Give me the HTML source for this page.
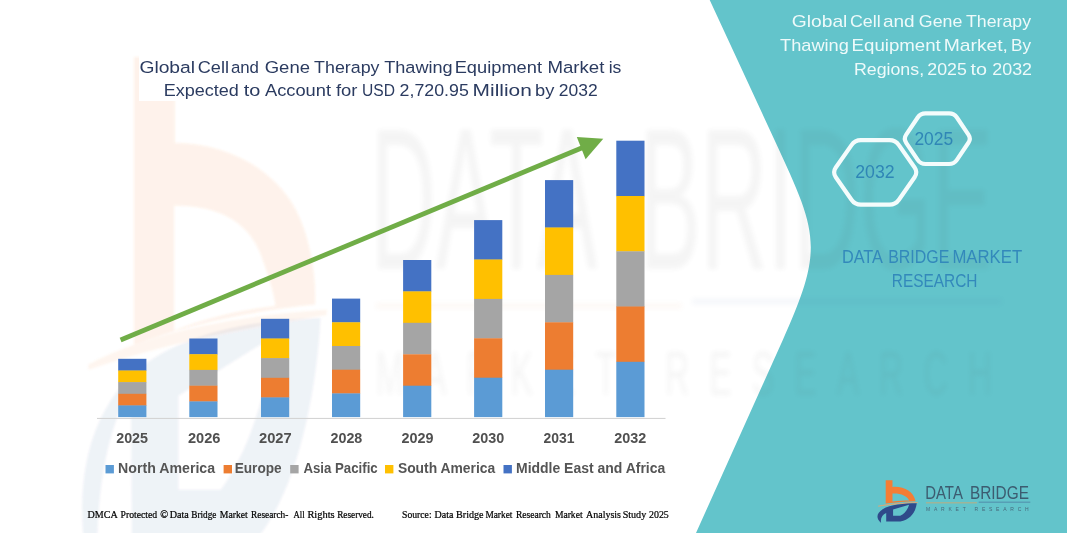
<!DOCTYPE html>
<html lang="en">
<head>
<meta charset="utf-8">
<title>Global Cell and Gene Therapy Thawing Equipment Market</title>
<style>
html,body{margin:0;padding:0;background:#ffffff;}
body{width:1067px;height:533px;overflow:hidden;position:relative;font-family:"Liberation Sans",sans-serif;}
svg{position:absolute;left:0;top:0;display:block;will-change:transform;}
text{font-family:"Liberation Sans",sans-serif;}
.title{font-size:16.9px;fill:#2b3b60;}
.rtitle{font-size:15.9px;fill:#eefafa;}
.yr{font-size:13.8px;font-weight:bold;fill:#505050;}
.lg{font-size:13.8px;font-weight:bold;fill:#555555;}
.ft{font-family:"Liberation Serif",serif;font-size:10.3px;fill:#000000;stroke:#000000;stroke-width:0.22px;}
.hx{font-size:17.8px;fill:#2f86b6;}
.dbm{font-size:17.8px;fill:#3389bb;}
</style>
</head>
<body>
<svg width="1067" height="533" viewBox="0 0 1067 533">
  <defs>
    <filter id="blur1" x="-10%" y="-10%" width="120%" height="120%"><feGaussianBlur stdDeviation="1.2"/></filter>
    <filter id="blur2" x="-10%" y="-10%" width="120%" height="120%"><feGaussianBlur stdDeviation="2.5"/></filter>
  </defs>
  <g opacity="0.999">
  <rect x="0" y="0" width="1067" height="533" fill="#ffffff"/>

  <!-- faint watermark (left logo) -->
  <g filter="url(#blur1)"><g transform="matrix(6 0 0 12.87 -5180.2 -6124.2)"><g transform="translate(870,474) scale(0.10127)">
  <g opacity="0.10">
    <path d="M155,62 L222,62 L222,128 C300,128 380,145 420,178 C445,200 455,230 453,252 C360,256 250,266 155,283 Z M221,176 C300,176 345,190 365,215 C378,232 385,242 388,253 C330,256 270,263 221,272 Z" fill="#f47d35" fill-rule="evenodd"/>
    <path d="M80,300 C180,275 330,262 472,258 C330,268 190,282 80,300 Z" fill="#f0a060" stroke="#f0a060" stroke-width="4"/>
  </g>
  <g opacity="0.065">
    <path transform="translate(0,-28)" d="M462,290 C340,292 200,302 125,348 C68,385 48,440 100,530 C88,470 95,420 115,385 C125,368 138,352 150,345 L152,480 L300,480 C400,462 452,372 462,290 Z M228,350 L386,304 C372,352 340,396 298,422 L228,422 Z" fill="#2f4a8a" fill-rule="evenodd"/>
  </g>
  </g></g></g>

  <!-- teal panel -->
  <path d="M709.7,0 L774.5,140 C817.6,233 824.7,247 782.8,340 L696,533 L1067,533 L1067,0 Z" fill="#63c4cb"/>

  <!-- faint watermark (text) -->
  <g opacity="0.05" filter="url(#blur2)"><g transform="matrix(6 0 0 11.1 -5180.2 -5272.4)">
  <text x="925.2" y="499.2" font-size="18.2" fill="#444444" textLength="37.7" lengthAdjust="spacingAndGlyphs">DATA</text>
  <text x="969.9" y="499.2" font-size="18.2" fill="#444444" textLength="59" lengthAdjust="spacingAndGlyphs">BRIDGE</text>
  <rect x="926" y="502.3" width="51" height="0.5" fill="#e08a4a"/>
  <rect x="978.7" y="501.9" width="51.6" height="0.5" fill="#3a5fa0"/>
  <text x="926" y="510.6" font-size="5.6" fill="#444444" textLength="102.7" lengthAdjust="spacing">MARKET  RESEARCH</text>
  </g></g>

  <!-- axis baseline -->
  <rect x="97" y="417.9" width="568.5" height="1.1" fill="#d4d4d4"/>

  <!-- stacked bars -->
  <g>
    <rect x="118.2" y="358.8" width="28.2" height="12.0" fill="#4472c4"/>
    <rect x="118.2" y="370.5" width="28.2" height="12.0" fill="#ffc000"/>
    <rect x="118.2" y="382.1" width="28.2" height="12.0" fill="#a5a5a5"/>
    <rect x="118.2" y="393.8" width="28.2" height="12.0" fill="#ed7d31"/>
    <rect x="118.2" y="405.4" width="28.2" height="11.7" fill="#5b9bd5"/>
  </g>
  <g>
    <rect x="189.3" y="338.5" width="28.2" height="16.0" fill="#4472c4"/>
    <rect x="189.3" y="354.2" width="28.2" height="16.0" fill="#ffc000"/>
    <rect x="189.3" y="369.9" width="28.2" height="16.0" fill="#a5a5a5"/>
    <rect x="189.3" y="385.7" width="28.2" height="16.0" fill="#ed7d31"/>
    <rect x="189.3" y="401.4" width="28.2" height="15.7" fill="#5b9bd5"/>
  </g>
  <g>
    <rect x="261.0" y="318.8" width="28.2" height="20.0" fill="#4472c4"/>
    <rect x="261.0" y="338.5" width="28.2" height="20.0" fill="#ffc000"/>
    <rect x="261.0" y="358.1" width="28.2" height="20.0" fill="#a5a5a5"/>
    <rect x="261.0" y="377.8" width="28.2" height="20.0" fill="#ed7d31"/>
    <rect x="261.0" y="397.4" width="28.2" height="19.7" fill="#5b9bd5"/>
  </g>
  <g>
    <rect x="332.0" y="298.6" width="28.2" height="24.0" fill="#4472c4"/>
    <rect x="332.0" y="322.3" width="28.2" height="24.0" fill="#ffc000"/>
    <rect x="332.0" y="346.0" width="28.2" height="24.0" fill="#a5a5a5"/>
    <rect x="332.0" y="369.7" width="28.2" height="24.0" fill="#ed7d31"/>
    <rect x="332.0" y="393.4" width="28.2" height="23.7" fill="#5b9bd5"/>
  </g>
  <g>
    <rect x="403.1" y="260.0" width="28.2" height="31.7" fill="#4472c4"/>
    <rect x="403.1" y="291.4" width="28.2" height="31.7" fill="#ffc000"/>
    <rect x="403.1" y="322.8" width="28.2" height="31.7" fill="#a5a5a5"/>
    <rect x="403.1" y="354.3" width="28.2" height="31.7" fill="#ed7d31"/>
    <rect x="403.1" y="385.7" width="28.2" height="31.4" fill="#5b9bd5"/>
  </g>
  <g>
    <rect x="474.1" y="220.1" width="28.2" height="39.7" fill="#4472c4"/>
    <rect x="474.1" y="259.5" width="28.2" height="39.7" fill="#ffc000"/>
    <rect x="474.1" y="298.9" width="28.2" height="39.7" fill="#a5a5a5"/>
    <rect x="474.1" y="338.3" width="28.2" height="39.7" fill="#ed7d31"/>
    <rect x="474.1" y="377.7" width="28.2" height="39.4" fill="#5b9bd5"/>
  </g>
  <g>
    <rect x="545.0" y="180.1" width="28.2" height="47.7" fill="#4472c4"/>
    <rect x="545.0" y="227.5" width="28.2" height="47.7" fill="#ffc000"/>
    <rect x="545.0" y="274.9" width="28.2" height="47.7" fill="#a5a5a5"/>
    <rect x="545.0" y="322.3" width="28.2" height="47.7" fill="#ed7d31"/>
    <rect x="545.0" y="369.7" width="28.2" height="47.4" fill="#5b9bd5"/>
  </g>
  <g>
    <rect x="616.3" y="140.7" width="28.2" height="55.6" fill="#4472c4"/>
    <rect x="616.3" y="196.0" width="28.2" height="55.6" fill="#ffc000"/>
    <rect x="616.3" y="251.3" width="28.2" height="55.6" fill="#a5a5a5"/>
    <rect x="616.3" y="306.5" width="28.2" height="55.6" fill="#ed7d31"/>
    <rect x="616.3" y="361.8" width="28.2" height="55.3" fill="#5b9bd5"/>
  </g>

  <!-- trend arrow -->
  <line x1="120.6" y1="340" x2="584" y2="147" stroke="#70ad47" stroke-width="4.8"/>
  <polygon points="603.3,138.7 576.8,137 585.6,159.3" fill="#70ad47"/>

  <!-- chart title -->
  <rect x="139" y="54" width="485" height="47" fill="#ffffff"/>
  <text class="title" x="139.4" y="72.5" textLength="55.7" lengthAdjust="spacingAndGlyphs">Global</text>
  <text class="title" x="197.8" y="72.5" textLength="31.2" lengthAdjust="spacingAndGlyphs">Cell</text>
  <text class="title" x="230.9" y="72.5" textLength="28.1" lengthAdjust="spacingAndGlyphs">and</text>
  <text class="title" x="264.7" y="72.5" textLength="45.3" lengthAdjust="spacingAndGlyphs">Gene</text>
  <text class="title" x="314.1" y="72.5" textLength="65.4" lengthAdjust="spacingAndGlyphs">Therapy</text>
  <text class="title" x="384.2" y="72.5" textLength="68.5" lengthAdjust="spacingAndGlyphs">Thawing</text>
  <text class="title" x="454.7" y="72.5" textLength="87.3" lengthAdjust="spacingAndGlyphs">Equipment</text>
  <text class="title" x="547.4" y="72.5" textLength="57.0" lengthAdjust="spacingAndGlyphs">Market</text>
  <text class="title" x="608.7" y="72.5" textLength="12.7" lengthAdjust="spacingAndGlyphs">is</text>
  <text class="title" x="163.7" y="96.4" textLength="75.2" lengthAdjust="spacingAndGlyphs">Expected</text>
  <text class="title" x="243.7" y="96.4" textLength="16.6" lengthAdjust="spacingAndGlyphs">to</text>
  <text class="title" x="265.0" y="96.4" textLength="66.0" lengthAdjust="spacingAndGlyphs">Account</text>
  <text class="title" x="335.9" y="96.4" textLength="21.5" lengthAdjust="spacingAndGlyphs">for</text>
  <text class="title" x="362.0" y="96.4" textLength="33.0" lengthAdjust="spacingAndGlyphs">USD</text>
  <text class="title" x="399.6" y="96.4" textLength="69.2" lengthAdjust="spacingAndGlyphs">2,720.95</text>
  <text class="title" x="472.6" y="96.4" textLength="59.2" lengthAdjust="spacingAndGlyphs">Million</text>
  <text class="title" x="535.0" y="96.4" textLength="19.3" lengthAdjust="spacingAndGlyphs">by</text>
  <text class="title" x="558.8" y="96.4" textLength="38.9" lengthAdjust="spacingAndGlyphs">2032</text>

  <!-- axis labels -->
  <text class="yr" x="116.2" y="443.1" textLength="31.8" lengthAdjust="spacingAndGlyphs">2025</text>
  <text class="yr" x="187.9" y="443.1" textLength="32.5" lengthAdjust="spacingAndGlyphs">2026</text>
  <text class="yr" x="259.0" y="443.1" textLength="32.7" lengthAdjust="spacingAndGlyphs">2027</text>
  <text class="yr" x="330.5" y="443.1" textLength="31.8" lengthAdjust="spacingAndGlyphs">2028</text>
  <text class="yr" x="401.4" y="443.1" textLength="32.0" lengthAdjust="spacingAndGlyphs">2029</text>
  <text class="yr" x="472.3" y="443.1" textLength="32.0" lengthAdjust="spacingAndGlyphs">2030</text>
  <text class="yr" x="543.4" y="443.1" textLength="31.0" lengthAdjust="spacingAndGlyphs">2031</text>
  <text class="yr" x="614.3" y="443.1" textLength="32.0" lengthAdjust="spacingAndGlyphs">2032</text>

  <!-- legend -->
  <rect x="105.5" y="465" width="8.4" height="8.4" fill="#5b9bd5"/>
  <text class="lg" x="118.1" y="473.4" textLength="97.0" lengthAdjust="spacingAndGlyphs">North America</text>
  <rect x="223.6" y="465" width="8.4" height="8.4" fill="#ed7d31"/>
  <text class="lg" x="234.7" y="473.4" textLength="47.0" lengthAdjust="spacingAndGlyphs">Europe</text>
  <rect x="290.2" y="465" width="8.4" height="8.4" fill="#a5a5a5"/>
  <text class="lg" x="303.4" y="473.4" textLength="74.3" lengthAdjust="spacingAndGlyphs">Asia Pacific</text>
  <rect x="385.0" y="465" width="8.4" height="8.4" fill="#ffc000"/>
  <text class="lg" x="397.9" y="473.4" textLength="97.3" lengthAdjust="spacingAndGlyphs">South America</text>
  <rect x="503.5" y="465" width="8.4" height="8.4" fill="#4472c4"/>
  <text class="lg" x="516.0" y="473.4" textLength="149.3" lengthAdjust="spacingAndGlyphs">Middle East and Africa</text>

  <!-- footer -->
  <text class="ft" x="87.6" y="517.9" textLength="30.2" lengthAdjust="spacingAndGlyphs">DMCA</text>
  <text class="ft" x="120.5" y="517.9" textLength="36.7" lengthAdjust="spacingAndGlyphs">Protected</text>
  <text class="ft" x="160.2" y="517.9" textLength="7.9" lengthAdjust="spacingAndGlyphs">©</text>
  <text class="ft" x="169.7" y="517.9" textLength="19.1" lengthAdjust="spacingAndGlyphs">Data</text>
  <text class="ft" x="191.2" y="517.9" textLength="25.3" lengthAdjust="spacingAndGlyphs">Bridge</text>
  <text class="ft" x="219.8" y="517.9" textLength="28.0" lengthAdjust="spacingAndGlyphs">Market</text>
  <text class="ft" x="251.1" y="517.9" textLength="37.3" lengthAdjust="spacingAndGlyphs">Research-</text>
  <text class="ft" x="293.6" y="517.9" textLength="11.1" lengthAdjust="spacingAndGlyphs">All</text>
  <text class="ft" x="307.4" y="517.9" textLength="27.3" lengthAdjust="spacingAndGlyphs">Rights</text>
  <text class="ft" x="337.2" y="517.9" textLength="36.7" lengthAdjust="spacingAndGlyphs">Reserved.</text>
  <text class="ft" x="402.1" y="517.9" textLength="29.5" lengthAdjust="spacingAndGlyphs">Source:</text>
  <text class="ft" x="434.5" y="517.9" textLength="18.9" lengthAdjust="spacingAndGlyphs">Data</text>
  <text class="ft" x="456.1" y="517.9" textLength="27.5" lengthAdjust="spacingAndGlyphs">Bridge</text>
  <text class="ft" x="485.4" y="517.9" textLength="27.0" lengthAdjust="spacingAndGlyphs">Market</text>
  <text class="ft" x="515.9" y="517.9" textLength="34.9" lengthAdjust="spacingAndGlyphs">Research</text>
  <text class="ft" x="554.9" y="517.9" textLength="27.7" lengthAdjust="spacingAndGlyphs">Market</text>
  <text class="ft" x="586.1" y="517.9" textLength="34.9" lengthAdjust="spacingAndGlyphs">Analysis</text>
  <text class="ft" x="622.7" y="517.9" textLength="23.5" lengthAdjust="spacingAndGlyphs">Study</text>
  <text class="ft" x="649.0" y="517.9" textLength="19.8" lengthAdjust="spacingAndGlyphs">2025</text>

  <!-- right panel -->
  <text class="rtitle" x="791.8" y="27.4" textLength="55.6" lengthAdjust="spacingAndGlyphs">Global</text>
  <text class="rtitle" x="849.9" y="27.4" textLength="30.7" lengthAdjust="spacingAndGlyphs">Cell</text>
  <text class="rtitle" x="882.9" y="27.4" textLength="31.7" lengthAdjust="spacingAndGlyphs">and</text>
  <text class="rtitle" x="918.8" y="27.4" textLength="43.5" lengthAdjust="spacingAndGlyphs">Gene</text>
  <text class="rtitle" x="966.0" y="27.4" textLength="65.1" lengthAdjust="spacingAndGlyphs">Therapy</text>
  <text class="rtitle" x="780.0" y="51.4" textLength="68.9" lengthAdjust="spacingAndGlyphs">Thawing</text>
  <text class="rtitle" x="851.6" y="51.4" textLength="89.2" lengthAdjust="spacingAndGlyphs">Equipment</text>
  <text class="rtitle" x="943.7" y="51.4" textLength="64.3" lengthAdjust="spacingAndGlyphs">Market,</text>
  <text class="rtitle" x="1011.1" y="51.4" textLength="20.0" lengthAdjust="spacingAndGlyphs">By</text>
  <text class="rtitle" x="853.9" y="75.4" textLength="70.2" lengthAdjust="spacingAndGlyphs">Regions,</text>
  <text class="rtitle" x="927.3" y="75.4" textLength="39.5" lengthAdjust="spacingAndGlyphs">2025</text>
  <text class="rtitle" x="970.5" y="75.4" textLength="16.5" lengthAdjust="spacingAndGlyphs">to</text>
  <text class="rtitle" x="992.3" y="75.4" textLength="39.7" lengthAdjust="spacingAndGlyphs">2032</text>
  <path d="M835.8,177.3 Q832.4,172.4 835.8,167.5 L851.5,145.1 Q854.9,140.2 860.9,140.2 L889.5,140.2 Q895.5,140.2 898.9,145.1 L914.6,167.5 Q918.0,172.4 914.6,177.3 L898.9,199.7 Q895.5,204.6 889.5,204.6 L860.9,204.6 Q854.9,204.6 851.5,199.7 Z" fill="none" stroke="#f4fcfc" stroke-width="4.2" stroke-linejoin="round"/>
  <path d="M906.2,142.8 Q903.4,138.7 906.2,134.6 L917.7,117.5 Q920.5,113.4 925.5,113.4 L949.1,113.4 Q954.1,113.4 956.9,117.5 L968.4,134.6 Q971.2,138.7 968.4,142.8 L956.9,159.9 Q954.1,164.0 949.1,164.0 L925.5,164.0 Q920.5,164.0 917.7,159.9 Z" fill="none" stroke="#f4fcfc" stroke-width="4.2" stroke-linejoin="round"/>
  <text class="hx" x="914.4" y="145.4" textLength="38.8" lengthAdjust="spacingAndGlyphs">2025</text>
  <text class="hx" x="855.2" y="178.0" textLength="39.4" lengthAdjust="spacingAndGlyphs">2032</text>
  <text class="dbm" x="841.9" y="262.9" textLength="41.0" lengthAdjust="spacingAndGlyphs">DATA</text>
  <text class="dbm" x="888.2" y="262.9" textLength="61.2" lengthAdjust="spacingAndGlyphs">BRIDGE</text>
  <text class="dbm" x="952.4" y="262.9" textLength="69.8" lengthAdjust="spacingAndGlyphs">MARKET</text>
  <text class="dbm" x="891.8" y="286.9" textLength="85.7" lengthAdjust="spacingAndGlyphs">RESEARCH</text>

  <!-- logo -->
  <g transform="translate(870,474) scale(0.10127)">
    <path d="M155,62 L222,62 L222,128 C330,118 430,170 450,270 C360,272 250,280 155,292 Z M222,192 L222,272 C280,265 340,262 386,262 C372,215 300,188 222,192 Z" fill="#f47d35" fill-rule="evenodd"/>
    <path d="M80,318 C180,295 330,284 472,282 C330,290 190,302 80,318 Z" fill="#e9a56b" stroke="#e9a56b" stroke-width="5"/>
    <path d="M462,290 C340,292 200,302 125,348 C68,385 52,432 110,484 C100,440 122,402 160,386 L160,470 L300,470 C400,452 452,372 462,290 Z M228,350 L386,304 C372,352 340,396 298,412 L228,412 Z" fill="#2f4a8a" fill-rule="evenodd"/>
  </g>
  <text x="925.2" y="499.2" font-size="18.2" fill="#3c5c70" textLength="37.7" lengthAdjust="spacingAndGlyphs">DATA</text>
  <text x="969.9" y="499.2" font-size="18.2" fill="#3c5c70" textLength="59" lengthAdjust="spacingAndGlyphs">BRIDGE</text>
  <rect x="926" y="502.4" width="51" height="0.9" fill="#c7a979"/>
  <rect x="978.7" y="501.7" width="51.6" height="0.9" fill="#4f86a8"/>
  <text x="926" y="510.8" font-size="5" fill="#47697c" textLength="102.7" lengthAdjust="spacing">MARKET  RESEARCH</text>

  </g>
</svg>
</body>
</html>
